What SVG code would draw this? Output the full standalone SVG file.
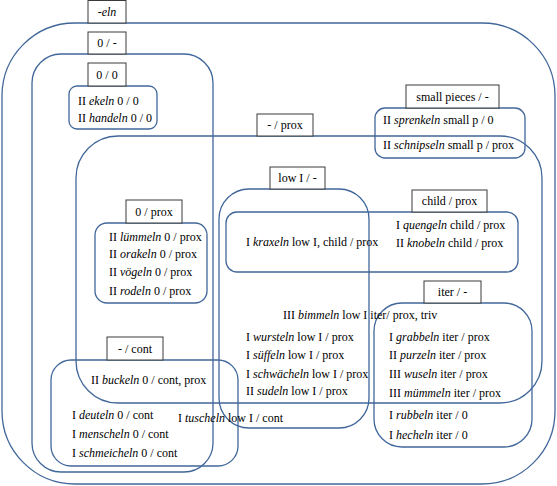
<svg xmlns="http://www.w3.org/2000/svg" width="557" height="486" viewBox="0 0 557 486">
<style>
.set{fill:none;stroke:#41679A;stroke-width:1.3}
.lab{fill:#fff;stroke:#3a3a3a;stroke-width:1}
.c{text-anchor:middle}
.i{font-style:italic}
</style>
<rect width="557" height="486" fill="#fff"/>
<g id="sets">
<rect id="set-eln" class="set" x="2" y="23" width="553" height="461" rx="73"/>
<rect id="set-0" class="set" x="32" y="54" width="181" height="418" rx="29"/>
<rect id="set-00" class="set" x="69" y="86" width="88" height="43" rx="8"/>
<rect id="set-prox" class="set" x="76" y="136" width="466" height="267" rx="42"/>
<rect id="set-small" class="set" x="375" y="108" width="150" height="50" rx="10"/>
<rect id="set-low" class="set" x="219" y="189" width="150" height="239" rx="30"/>
<rect id="set-child" class="set" x="226" y="212" width="292" height="60" rx="11"/>
<rect id="set-0prox" class="set" x="95" y="223" width="112" height="80" rx="12"/>
<rect id="set-cont" class="set" x="51" y="360" width="187" height="106" rx="20"/>
<rect id="set-iter" class="set" x="374" y="303" width="158" height="144" rx="28"/>
</g>
<g id="labels" font-family="Liberation Serif, Times New Roman, serif" font-size="12">
<g id="l-eln"><rect class="lab" x="88" y="0.5" width="38" height="22.5"/><text class="c i" x="107" y="16">-eln</text></g>
<g id="l-0"><rect class="lab" x="88" y="32" width="38" height="22"/><text class="c" x="107" y="47">0 / -</text></g>
<g id="l-00"><rect class="lab" x="88" y="63" width="38" height="23"/><text class="c" x="107" y="79">0 / 0</text></g>
<g id="l-prox"><rect class="lab" x="257" y="114" width="56" height="22"/><text class="c" x="285" y="129">- / prox</text></g>
<g id="l-small"><rect class="lab" x="406" y="85" width="93" height="23"/><text class="c" x="452.5" y="101">small pieces / -</text></g>
<g id="l-low"><rect class="lab" x="270" y="167" width="55" height="22"/><text class="c" x="297.5" y="182">low I / -</text></g>
<g id="l-child"><rect class="lab" x="412" y="190" width="75" height="22"/><text class="c" x="449.5" y="205">child / prox</text></g>
<g id="l-0prox"><rect class="lab" x="126" y="200" width="56" height="23"/><text class="c" x="154" y="216">0 / prox</text></g>
<g id="l-cont"><rect class="lab" x="107" y="337" width="56" height="23"/><text class="c" x="135" y="353">- / cont</text></g>
<g id="l-iter"><rect class="lab" x="424" y="281" width="57" height="22"/><text class="c" x="452.5" y="296">iter / -</text></g>
</g>
<g id="items" font-family="Liberation Serif, Times New Roman, serif" font-size="12">
<text x="78" y="105">II <tspan class="i">ekeln</tspan> 0 / 0</text>
<text x="78" y="122">II <tspan class="i">handeln</tspan> 0 / 0</text>
<text x="383" y="124">II <tspan class="i">sprenkeln</tspan> small p / 0</text>
<text x="383" y="149">II <tspan class="i">schnipseln</tspan> small p / prox</text>
<text x="246" y="246">I <tspan class="i">kraxeln</tspan> low I, child / prox</text>
<text x="396" y="229">I <tspan class="i">quengeln</tspan> child / prox</text>
<text x="396" y="247">II <tspan class="i">knobeln</tspan> child / prox</text>
<text x="109" y="241">II <tspan class="i">lümmeln</tspan> 0 / prox</text>
<text x="109" y="258">II <tspan class="i">orakeln</tspan> 0 / prox</text>
<text x="109" y="276">II <tspan class="i">vögeln</tspan> 0 / prox</text>
<text x="109" y="295">II <tspan class="i">rodeln</tspan> 0 / prox</text>
<text x="283" y="319">III <tspan class="i">bimmeln</tspan> low I iter/ prox, triv</text>
<text x="246" y="341">I <tspan class="i">wursteln</tspan> low I / prox</text>
<text x="246" y="359">I <tspan class="i">süffeln</tspan> low I / prox</text>
<text x="246" y="378">I <tspan class="i">schwächeln</tspan> low I / prox</text>
<text x="246" y="395">II <tspan class="i">sudeln</tspan> low I / prox</text>
<text x="91" y="384">II <tspan class="i">buckeln</tspan> 0 / cont, prox</text>
<text x="72" y="419">I <tspan class="i">deuteln</tspan> 0 / cont</text>
<text x="72" y="438">I <tspan class="i">menscheln</tspan> 0 / cont</text>
<text x="72" y="457">I <tspan class="i">schmeicheln</tspan> 0 / cont</text>
<text x="178" y="422">I <tspan class="i">tuscheln</tspan> low I / cont</text>
<text x="389" y="341">I <tspan class="i">grabbeln</tspan> iter / prox</text>
<text x="389" y="359">II <tspan class="i">purzeln</tspan> iter / prox</text>
<text x="389" y="378">III <tspan class="i">wuseln</tspan> iter / prox</text>
<text x="389" y="397">III <tspan class="i">mümmeln</tspan> iter / prox</text>
<text x="389" y="419">I <tspan class="i">rubbeln</tspan> iter / 0</text>
<text x="389" y="439">I <tspan class="i">hecheln</tspan> iter / 0</text>
</g>
</svg>
